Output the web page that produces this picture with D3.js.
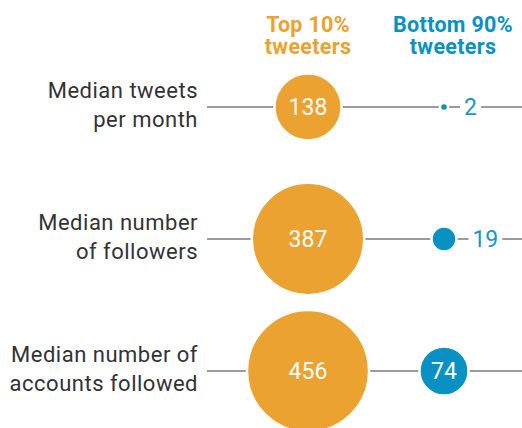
<!DOCTYPE html>
<html><head><meta charset="utf-8">
<script src="https://cdn.jsdelivr.net/npm/d3@7"></script>
<style>
html,body{margin:0;padding:0;background:#fff;}
svg{display:block;}
text{font-family:Roboto,"Liberation Sans",Arial,sans-serif;}
</style></head>
<body>
<svg id="chart" width="522" height="428"></svg>
<script>
const metricLines = [["Median tweets","per month"],["Median number","of followers"],["Median number of","accounts followed"]];
const metrics = ["tweets","followers","following"];
const groups = ["Top 10%","Bottom 90%"];
const groupHeaderLines = [["Top 10%","tweeters"],["Bottom 90%","tweeters"]];
const topValues = [138, 387, 456];
const bottomValues = [2, 19, 74];

const orange = "#EBA230", blue = "#0A91C3", blueText = "#1597CC";
const colors = [orange, blue];

const svg = d3.select("#chart");
const y = d3.scalePoint().domain(metrics).range([107, 371]);
const x = d3.scalePoint().domain(groups).range([308, 444]);
const r = d3.scaleSqrt().domain([0, 456]).range([0, 61]);

const data = [];
metrics.forEach((m, i) => {
  data.push({m, g: groups[0], v: topValues[i], gi: 0});
  data.push({m, g: groups[1], v: bottomValues[i], gi: 1});
});

// headers
groupHeaderLines.forEach((lines, gi) => {
  const hx = x(groups[gi]) + (gi === 1 ? 9 : 0);
  lines.forEach((l, li) => svg.append("text")
    .attr("x", hx).attr("y", 32 + li * 22)
    .attr("text-anchor", "middle")
    .attr("fill", colors[gi])
    .style("font-size", "21.5px").style("font-weight", "700")
    .style("letter-spacing", "0.3px")
    .text(l));
});

// row labels
metrics.forEach((m, i) => {
  const t = svg.append("text").attr("text-anchor", "end").attr("fill", "#333")
    .style("font-size", "22px").style("letter-spacing", "0.5px");
  metricLines[i].forEach((l, li) => t.append("tspan").attr("x", 198).attr("y", y(m) - 9 + li * 28.5).text(l));
});

// lines
svg.append("g").selectAll("line").data(metrics).join("line")
  .attr("x1", 207).attr("x2", 522)
  .attr("y1", d => y(d)).attr("y2", d => y(d))
  .attr("stroke", "#7a7a7a").attr("stroke-width", 1.3);

// circles
svg.append("g").selectAll("circle").data(data).join("circle")
  .attr("cx", d => x(d.g)).attr("cy", d => y(d.m)).attr("r", d => r(d.v))
  .attr("fill", d => colors[d.gi])
  .attr("stroke", "#fff").attr("stroke-width", 2.5);

// labels
data.forEach(d => {
  const rad = r(d.v);
  if (rad > 20) {
    svg.append("text").attr("x", x(d.g)).attr("y", y(d.m) + 8)
      .attr("text-anchor", "middle").attr("fill", "#fff")
      .style("font-size", "23px").style("font-weight", "400").text(d.v);
  } else {
    const tx = x(d.g) + rad + 16;
    const t = svg.append("text").attr("x", tx).attr("y", y(d.m) + 8)
      .attr("fill", blueText).style("font-size", "23px").style("font-weight", "400").text(d.v);
    const bb = t.node().getBBox();
    svg.insert("rect", () => t.node())
      .attr("x", bb.x - 4).attr("y", y(d.m) - 4).attr("width", bb.width + 8).attr("height", 8)
      .attr("fill", "#fff");
  }
});
</script>
</body></html>
